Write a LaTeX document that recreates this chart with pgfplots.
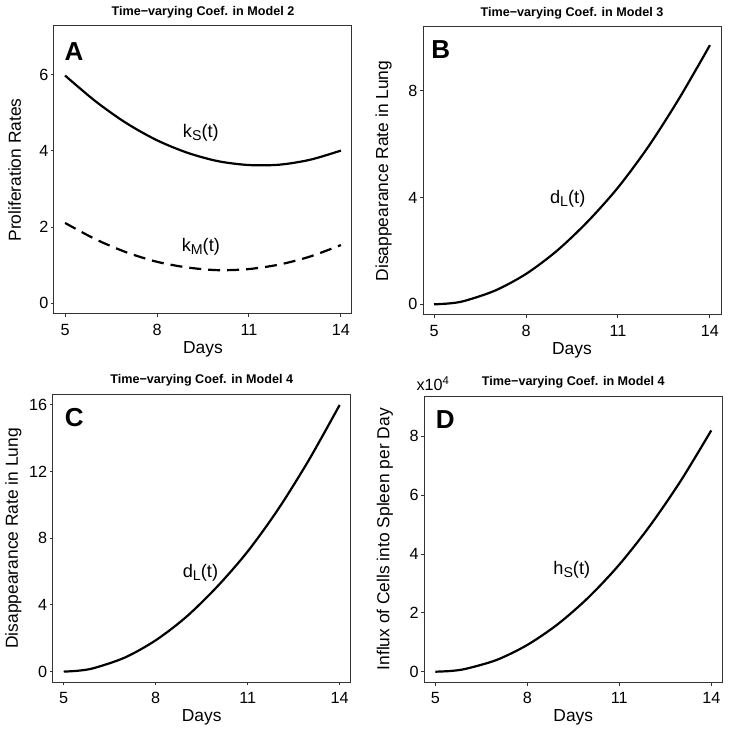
\documentclass[border=0pt]{standalone}
\usepackage{fontspec}
\setmainfont{Liberation Sans}
\usepackage{pgfplots}
\pgfplotsset{compat=1.18}

\newcommand{\sub}[1]{\raisebox{-0.3ex}{\fontsize{7.1}{8}\selectfont #1}}

\pgfplotsset{rpanel/.style={
  scale only axis, width=149pt, height=144pt,
  xmin=4.64, xmax=14.36, xtick={5,8,11,14},
  tick align=outside, xtick pos=left, ytick pos=left,
  major tick length=1.6pt,
  axis line style={black!80, line width=0.5pt},
  tick style={black!80, line width=0.5pt},
  tick label style={font=\fontsize{8.1}{9}\selectfont},
  yticklabel style={inner xsep=1pt},
  /pgf/number format/assume math mode=true,
  xlabel={Days},
  every axis x label/.style={at={(axis description cs:0.5,-0.122)}, anchor=center, font=\fontsize{8.7}{10}\selectfont},
  every axis y label/.style={at={(axis description cs:-0.132,0.5)}, rotate=90, anchor=center, font=\fontsize{8.7}{10}\selectfont},
  every axis title shift=0pt,
  title style={font=\bfseries\fontsize{6.3}{7}\selectfont, at={(axis description cs:0.5,1.048)}, anchor=center},
  clip=false}}
\tikzset{
  curve/.style={black, line width=1.1pt, smooth},
  letter/.style={font=\bfseries\fontsize{13}{13}\selectfont},
  clab/.style={font=\fontsize{9.1}{10}\selectfont}}

\begin{document}
\begin{tikzpicture}
\useasboundingbox (0,0) rectangle (364.5pt,367pt);

% A
\begin{axis}[rpanel, at={(27pt,210pt)}, anchor=south west,
  ymin=-0.28, ymax=7.28, ytick={0,2,4,6},
  ylabel={Proliferation Rates}, title={Time−varying Coef. in Model 2}]
\addplot[curve] coordinates {(5,5.98) (6,5.30) (7,4.73) (8,4.28) (9,3.95) (10,3.73) (11,3.63) (12,3.64) (13,3.77) (14,4.01)};
\addplot[curve, dash pattern=on 6pt off 3.5pt] coordinates {(5,2.11) (6,1.68) (7,1.34) (8,1.09) (9,0.94) (10,0.87) (11,0.90) (12,1.02) (13,1.23) (14,1.53)};
\node[clab] at (axis cs:9.43,4.48) {k\sub{S}(t)};
\node[clab] at (axis cs:9.43,1.49) {k\sub{M}(t)};
\node[letter] at (axis description cs:0.067,0.91) {A};
\end{axis}

% B
\begin{axis}[rpanel, at={(211.5pt,209.5pt)}, anchor=south west,
  ymin=-0.4, ymax=10.4, ytick={0,4,8},
  ylabel={Disappearance Rate in Lung}, title={Time−varying Coef. in Model 3}]
\addplot[curve] coordinates {(5,0) (5.5,0.035) (6,0.13) (7,0.52) (8,1.14) (9,2.00) (10,3.09) (11,4.38) (12,5.93) (13,7.73) (14,9.72)};
\node[clab] at (axis cs:9.36,3.97) {d\sub{L}(t)};
\node[letter] at (axis description cs:0.06,0.923) {B};
\end{axis}

% C
\begin{axis}[rpanel, at={(26.35pt,25.85pt)}, anchor=south west,
  ymin=-0.64, ymax=16.64, ytick={0,4,8,12,16},
  ylabel={Disappearance Rate in Lung}, title={Time−varying Coef. in Model 4}]
\addplot[curve] coordinates {(5,0) (5.5,0.06) (6,0.22) (7,0.85) (8,1.88) (9,3.29) (10,5.09) (11,7.21) (12,9.76) (13,12.71) (14,16.0)};
\node[clab] at (axis cs:9.46,5.91) {d\sub{L}(t)};
\node[letter] at (axis description cs:0.072,0.919) {C};
\end{axis}

% D
\begin{axis}[rpanel, at={(212.15pt,25.85pt)}, anchor=south west, height=143pt,
  ymin=-0.36, ymax=9.36, ytick={0,2,4,6,8},
  ylabel={Influx of Cells into Spleen per Day}, title={Time−varying Coef. in Model 4}]
\addplot[curve] coordinates {(5,0) (5.5,0.025) (6,0.10) (7,0.40) (8,0.91) (9,1.62) (10,2.53) (11,3.64) (12,4.96) (13,6.48) (14,8.20)};
\node[clab] at (axis cs:9.45,3.46) {h\sub{S}(t)};
\node[letter] at (axis description cs:0.07,0.918) {D};
\node[font=\fontsize{8.1}{9}\selectfont] at (axis description cs:0.03,1.045) {x10\textsuperscript{4}};
\end{axis}
\end{tikzpicture}
\end{document}
